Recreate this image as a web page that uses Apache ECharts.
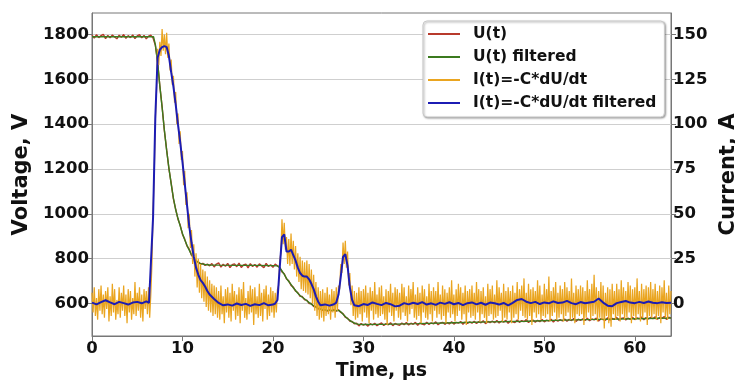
<!DOCTYPE html>
<html>
<head>
<meta charset="utf-8">
<script src="https://cdn.jsdelivr.net/npm/echarts@6/dist/echarts.min.js"></script>
<style>
  html, body { margin: 0; padding: 0; background: #fff; }
  #chart { width: 735px; height: 380px; }
</style>
</head>
<body>
<div id="chart"></div>
<script>
// sampling steps of the raw (unfiltered) signals, µs
const uStep = 0.25;
const iStep = 0.125;

// U(t), V — raw voltage, one value per 0.25 µs from 0 to 64 µs
const uRaw = [
  1797, 1784, 1799, 1786, 1795, 1801, 1782, 1796, 1785, 1798,
  1789, 1781, 1797, 1788, 1800, 1783, 1795, 1786, 1798, 1782,
  1794, 1799, 1785, 1796, 1781, 1793, 1797, 1784,
  1752, 1680, 1570, 1479, 1370, 1287, 1201, 1138, 1066, 1021,
  976, 950, 908, 887, 856, 842, 814, 806, 788, 786,
  775, 779, 770, 776, 768,
  778, 763, 776, 781, 762, 775, 766, 779, 760, 773,
  777, 764, 780, 761, 772, 776, 759, 778, 765, 774,
  762, 777, 768, 760, 779, 765, 773, 761, 776,
  768, 762, 741, 733, 709, 701, 681, 673, 655, 649,
  632, 631, 616, 615, 600, 600, 586, 587, 575, 578,
  569, 574, 566, 573, 567, 574, 566, 572, 560, 555,
  538, 535, 521, 520, 509, 512,
  500, 511, 503, 509, 499, 510, 504, 512, 501, 508,
  513, 502, 510, 505, 514, 501, 511, 506, 503, 513,
  505, 515, 504, 512, 507, 516, 503, 513, 508, 505,
  516, 506, 514, 509, 518, 505, 513, 516, 507, 515,
  509, 519, 508, 516, 512, 520, 507, 517, 511, 518,
  512, 521, 511, 519, 514, 523, 510, 520, 515, 522,
  514, 524, 513, 521, 517, 525, 512, 522, 518, 515,
  526, 516, 524, 519, 528, 515, 523, 526, 517, 525,
  519, 529, 518, 526, 522, 530, 517, 527, 521, 528,
  522, 531, 521, 529, 524, 533, 520, 530, 525, 532,
  524, 534, 523, 531, 527, 535, 522, 532, 528, 525,
  536, 526, 534, 529, 538, 525, 533, 536, 527, 535,
  529, 539, 528, 536, 532, 540, 527, 537, 531, 538,
  532, 541, 530, 538, 534, 542, 529, 539, 535
];

// I(t) = -C*dU/dt, A — raw current, one value per 0.125 µs (one row = 2 µs)
const iRaw = [
  6, -5, 9, -7, 3, -9, 8, -4, 10, -6, 5, -8, 7, -3, 9, -10,
  4, -7, 11, -5, 8, -9, 2, -6, 9, -8, 6, -4, 10, -7, 5, -11,
  8, -5, 7, -9, 3, -6, 12, -7, 6, -4, 9, -8, 5, -10, 8, -3,
  7, -6, 9, -8, 5, 22, 52, 71, 102, 118, 142, 133, 146, 138, 153, 141,
  150, 139, 151, 137, 145, 130, 136, 122, 127, 112, 118, 100, 106, 89, 96, 80,
  85, 66, 74, 55, 62, 42, 50, 31, 41, 22, 33, 15, 28, 9, 25, 6,
  22, 3, 19, 1, 18, -2, 15, -4, 13, -5, 11, -7, 10, -6, 9, -8,
  7, -9, 10, -6, 4, -11, 8, -5, 9, -8, 6, -10, 11, -4, 7, -9,
  5, -7, 9, -11, 8, -4, 12, -8, 3, -9, 7, -6, 10, -5, 8, -12,
  9, -6, 4, -8, 11, -7, 6, -10, 8, -3, 10, -9, 5, -7, 9, -5,
  7, -8, 6, -5, 8, 10, 24, 28, 47, 33, 45, 30, 37, 22, 36, 21,
  39, 22, 35, 19, 32, 15, 28, 12, 26, 8, 24, 7, 23, 6, 24, 5,
  22, 3, 19, 0, 16, -4, 12, -7, 9, -9, 7, -8, 8, -10, 6, -7,
  9, -6, 5, -9, 8, -5, 7, -8, 9, -4, 10, 8, 22, 17, 34, 22,
  35, 20, 29, 10, 17, -1, 10, -7, 7, -9, 6, -8, 9, -6, 7, -10,
  8, -5, 10, -8, 6, -11, 9, -4, 7, -9, 12, -6, 5, -8, 9, -7,
  10, -6, 4, -9, 8, -12, 7, -5, 11, -7, 6, -10, 9, -4, 8, -8,
  6, -9, 11, -5, 9, -7, 4, -10, 10, -6, 8, -3, 12, -8, 5, -9,
  9, -7, 6, -11, 10, -5, 8, -8, 4, -9, 11, -6, 7, -10, 9, -4,
  7, -8, 12, -6, 5, -9, 10, -7, 8, -11, 6, -5, 9, -8, 13, -6,
  5, -10, 8, -7, 11, -4, 9, -9, 6, -6, 10, -12, 7, -5, 8, -8,
  10, -7, 6, -9, 12, -5, 8, -10, 7, -6, 9, -8, 4, -11, 11, -7,
  8, -6, 10, -9, 5, -8, 13, -7, 9, -4, 6, -10, 11, -8, 7, -9,
  9, -5, 7, -11, 10, -8, 6, -6, 12, -9, 8, -4, 10, -7, 14, -8,
  6, -9, 11, -7, 8, -12, 9, -5, 7, -8, 13, -6, 10, -9, 5, -7,
  11, -8, 8, -6, 15, -10, 7, -7, 9, -5, 12, -9, 6, -8, 10, -6,
  8, -10, 12, -7, 9, -5, 7, -9, 14, -8, 6, -11, 10, -6, 8, -7,
  10, -6, 9, -12, 7, -8, 13, -5, 8, -9, 11, -7, 16, -6, 9, -10,
  7, -8, 12, -9, 10, -14, 6, -7, 9, -11, 8, -13, 11, -6, 7, -9,
  11, -7, 8, -10, 13, -6, 9, -9, 7, -8, 12, -5, 10, -11, 8, -7,
  9, -9, 14, -6, 7, -10, 11, -8, 8, -5, 10, -12, 9, -7, 12, -8,
  8, -6, 11, -9, 7, -7, 10, -11, 9, -5, 13, -8, 6, -9, 10, -6,
  7
];

// U(t) filtered: [time µs, V]
const uFiltered = [
  [0, 1790], [6.8, 1790], [7, 1756], [7.25, 1675], [7.5, 1570], [7.75, 1475],
  [8, 1374], [8.25, 1283], [8.5, 1205], [8.75, 1134], [9, 1070], [9.25, 1018],
  [9.5, 980], [9.75, 946], [10, 912], [10.25, 884], [10.5, 860], [10.75, 838],
  [11, 818], [11.25, 803], [11.5, 792], [11.75, 783], [12, 778], [12.5, 774],
  [13, 772], [14, 771], [16, 770], [18, 770], [20, 769], [20.5, 768],
  [20.75, 760], [21, 745], [21.25, 730], [21.5, 712], [21.75, 698], [22, 685],
  [22.25, 670], [22.5, 658], [22.75, 646], [23, 636], [23.25, 628], [23.5, 620],
  [23.75, 612], [24, 604], [24.25, 597], [24.5, 590], [24.75, 584], [25, 579],
  [25.25, 575], [25.5, 573], [25.75, 571], [26, 570], [27.25, 569], [27.5, 563],
  [27.75, 552], [28, 542], [28.25, 532], [28.5, 525], [28.75, 518], [29, 513],
  [29.25, 509], [29.5, 507], [30, 506], [32, 507], [36, 510], [40, 514],
  [44, 518], [48, 521], [52, 526], [56, 529], [60, 532], [64, 535]
];

// I(t) filtered: [time µs, A]
const iFiltered = [
  [0, 0.5], [0.5, -0.5], [1, 0.8], [1.5, 1.8], [2, 0.6], [2.5, -0.4], [3, 0.9],
  [3.5, 0.2], [4, -0.6], [4.5, 0.5], [5, 0.9], [5.5, 0.1], [6, 1.2], [6.3, 0.3],
  [6.5, 1], [6.75, 48], [7, 104], [7.25, 137], [7.5, 141.5], [7.75, 143],
  [8, 143.5], [8.25, 143], [8.5, 138], [8.75, 129], [9, 121], [9.25, 111],
  [9.5, 100], [9.75, 90], [10, 79], [10.25, 67], [10.5, 55], [10.75, 43],
  [11, 34], [11.25, 26], [11.5, 20], [11.75, 16], [12, 13], [12.25, 11.5],
  [12.5, 9.5], [12.75, 7], [13, 5], [13.5, 2.5], [14, 0.3], [14.5, -1],
  [15, -0.5], [15.5, -1.2], [16, 0], [16.5, -0.8], [17, -0.2], [17.5, -1.3],
  [18, -0.4], [18.5, -0.9], [19, 0.2], [19.5, -1], [20, -0.6], [20.25, 0],
  [20.5, 2], [20.75, 20], [21, 37], [21.25, 38.5], [21.5, 29], [21.75, 29],
  [22, 30], [22.25, 27], [22.5, 24], [22.75, 20], [23, 17], [23.25, 15.5],
  [23.5, 15], [23.75, 15], [24, 13.5], [24.25, 11], [24.5, 8], [24.75, 4],
  [25, 1], [25.25, -1], [25.75, -0.5], [26.25, -1.2], [26.75, -0.4], [27, 0.5],
  [27.25, 5], [27.5, 15], [27.75, 26], [28, 27.5], [28.25, 21], [28.5, 9],
  [28.75, 2], [29, -1], [29.5, -1.5], [30, -0.3], [30.5, -0.8], [31, 0.6],
  [31.5, -0.2], [32, -0.9], [32.5, 0.3], [33, -0.4], [33.5, -1.6], [34, -1.2],
  [34.5, 0.2], [35, -0.5], [35.5, 0.4], [36, -0.3], [36.5, 0.8], [37, -0.6],
  [37.5, 0.1], [38, -0.8], [38.5, 0.5], [39, -0.2], [39.5, 0.7], [40, -0.4],
  [40.5, 0.3], [41, -0.9], [41.5, 0.2], [42, 0.6], [42.5, -0.5], [43, 0.4],
  [43.5, -0.7], [44, 0.5], [44.5, 0.1], [45, -0.6], [45.5, 0.3], [46, -1],
  [46.5, 0.4], [47, 2], [47.5, 2.5], [48, 1], [48.5, 0.2], [49, 0.9],
  [49.5, -0.3], [50, 0.6], [50.5, 0.1], [51, 1.2], [51.5, 0.3], [52, 0.5],
  [52.5, 1.5], [53, 0.2], [53.5, -0.4], [54, 0.8], [54.5, 0.1], [55, 0.6],
  [55.5, 1], [56, 2.8], [56.5, 0.5], [57, -1.2], [57.5, -1.5], [58, 0.2],
  [58.5, 0.8], [59, 1.4], [59.5, 0.5], [60, 0.2], [60.5, 0.9], [61, 0.3],
  [61.5, 1.1], [62, 0.4], [62.5, 0.2], [63, 0.7], [63.5, 0.3], [64, 0.4]
];

// tick labels
const timeTicks = [0, 10, 20, 30, 40, 50, 60];
const voltTicks = [600, 800, 1000, 1200, 1400, 1600, 1800];
const currTicks = [0, 25, 50, 75, 100, 125, 150];

const seriesNames = ["U(t)", "U(t) filtered", "I(t)=-C*dU/dt", "I(t)=-C*dU/dt filtered"];
const colors = ["#b83a2c", "#3b7a1e", "#eaa520", "#1c1cb4"];

const font = "DejaVu Sans";
const frame = "#777";

const myChart = echarts.init(document.getElementById("chart"), null, { renderer: "canvas" });

const labelStyle = {
  fontFamily: font, fontWeight: "bold", fontSize: 16.5, color: "#111",
  formatter: (v) => String(v)
};
const nameStyle = { fontFamily: font, fontWeight: "bold", fontSize: 21, color: "#111" };

let option = {
  animation: false,
  backgroundColor: "#fff",
  grid: {
    left: 92, right: 64, top: 13, bottom: 44,
    show: true, borderColor: frame, borderWidth: 1,
    containLabel: false, outerBoundsMode: "none"
  },
  legend: {
    orient: "vertical",
    left: 423, top: 21,
    padding: [5, 8, 6, 5],
    itemGap: 7,
    itemWidth: 32, itemHeight: 2,
    icon: "rect",
    backgroundColor: "#fff",
    borderColor: "#c8c8c8", borderWidth: 1, borderRadius: 4,
    shadowColor: "rgba(0,0,0,0.35)", shadowBlur: 2, shadowOffsetX: 1, shadowOffsetY: 1,
    textStyle: { fontFamily: font, fontWeight: "bold", fontSize: 15.5, color: "#111",
      lineHeight: 16, padding: [0, 0, 0, 8] },
    data: seriesNames
  },
  xAxis: {
    type: "value", min: 0, max: 64,
    name: "Time, µs", nameLocation: "middle", nameGap: 21,
    nameTextStyle: { fontFamily: font, fontWeight: "bold", fontSize: 19, color: "#111" },
    axisLine: { show: true, onZero: false, lineStyle: { color: frame } },
    axisTick: { show: true, length: 5, lineStyle: { color: frame }, customValues: timeTicks },
    axisLabel: Object.assign({ margin: 4, customValues: timeTicks }, labelStyle),
    splitLine: { show: false }
  },
  yAxis: [
    {
      type: "value", min: 455, max: 1896, position: "left",
      name: "Voltage, V", nameLocation: "middle", nameGap: 60, nameRotate: 90,
      nameTextStyle: nameStyle,
      axisLine: { show: true, onZero: false, lineStyle: { color: frame } },
      axisTick: { show: true, length: 6, lineStyle: { color: frame }, customValues: voltTicks },
      axisLabel: Object.assign({ margin: 3, customValues: voltTicks }, labelStyle),
      splitLine: { show: true, lineStyle: { color: "#cfcfcf", width: 1.2 } }
    },
    {
      type: "value", min: -18.125, max: 162, position: "right",
      name: "Current, A", nameLocation: "middle", nameGap: 41, nameRotate: 90,
      nameTextStyle: nameStyle,
      axisLine: { show: true, onZero: false, lineStyle: { color: frame } },
      axisTick: { show: true, length: 5, lineStyle: { color: frame }, customValues: currTicks },
      axisLabel: Object.assign({ margin: 2, customValues: currTicks }, labelStyle),
      splitLine: { show: false }
    }
  ],
  series: [
    {
      name: seriesNames[0], type: "line", yAxisIndex: 0, z: 1,
      showSymbol: false, symbol: "none", silent: true,
      color: colors[0], lineStyle: { width: 1.4, color: colors[0] },
      data: uRaw.map((v, i) => [i * uStep, v])
    },
    {
      name: seriesNames[1], type: "line", yAxisIndex: 0, z: 2,
      showSymbol: false, symbol: "none", silent: true,
      color: colors[1], lineStyle: { width: 1.4, color: colors[1] },
      data: uFiltered
    },
    {
      name: seriesNames[2], type: "line", yAxisIndex: 1, z: 3,
      showSymbol: false, symbol: "none", silent: true,
      color: colors[2], lineStyle: { width: 1.25, color: colors[2] },
      data: iRaw.map((v, i) => [i * iStep, v])
    },
    {
      name: seriesNames[3], type: "line", yAxisIndex: 1, z: 4,
      showSymbol: false, symbol: "none", silent: true,
      color: colors[3], lineStyle: { width: 2, color: colors[3] },
      data: iFiltered
    }
  ]
};

myChart.setOption(option);
</script>
</body>
</html>
